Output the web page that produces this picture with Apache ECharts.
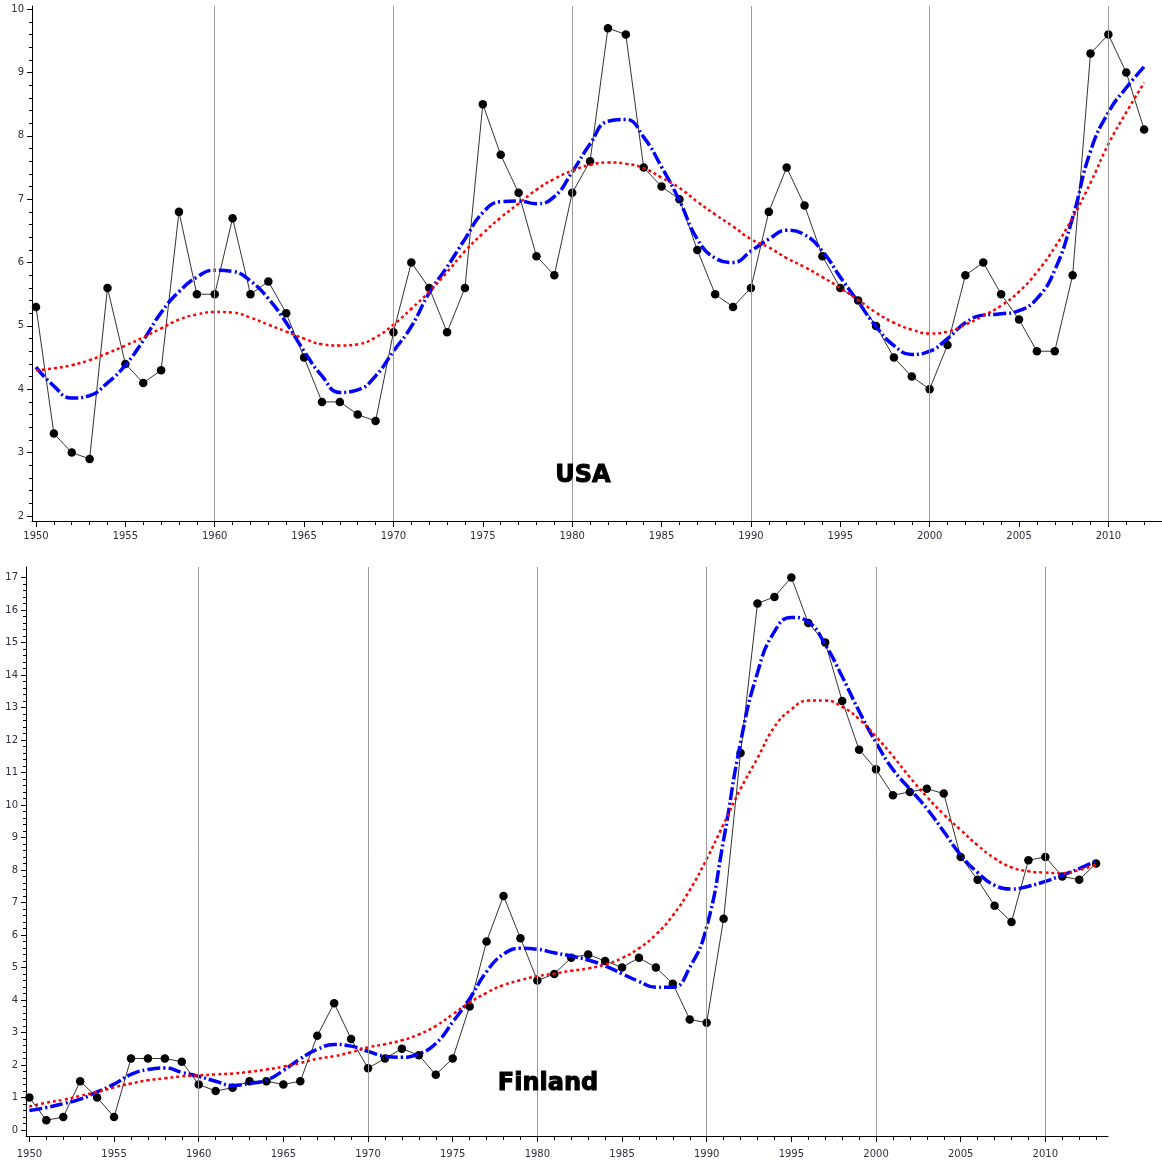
<!DOCTYPE html>
<html>
<head>
<meta charset="utf-8">
<script src="https://cdn.jsdelivr.net/npm/echarts/dist/echarts.min.js"></script>
<style>
html,body{margin:0;padding:0;background:#fff;}
#chart{width:1162px;height:1169px;}
</style>
</head>
<body>
<div id="chart"></div>
<script>
// ---------- DATA ----------
const usaYears = [1950,1951,1952,1953,1954,1955,1956,1957,1958,1959,
  1960,1961,1962,1963,1964,1965,1966,1967,1968,1969,
  1970,1971,1972,1973,1974,1975,1976,1977,1978,1979,
  1980,1981,1982,1983,1984,1985,1986,1987,1988,1989,
  1990,1991,1992,1993,1994,1995,1996,1997,1998,1999,
  2000,2001,2002,2003,2004,2005,2006,2007,2008,2009,
  2010,2011,2012];
const usaRate = [5.3,3.3,3.0,2.9,5.6,4.4,4.1,4.3,6.8,5.5,
  5.5,6.7,5.5,5.7,5.2,4.5,3.8,3.8,3.6,3.5,
  4.9,6.0,5.6,4.9,5.6,8.5,7.7,7.1,6.1,5.8,
  7.1,7.6,9.7,9.6,7.5,7.2,7.0,6.2,5.5,5.3,
  5.6,6.8,7.5,6.9,6.1,5.6,5.4,5.0,4.5,4.2,
  4.0,4.7,5.8,6.0,5.5,5.1,4.6,4.6,5.8,9.3,
  9.6,9.0,8.1];
const usaSmoothBlue = [4.35,4.05,3.86,3.90,4.10,4.38,4.77,5.21,5.54,5.77,
  5.88,5.86,5.71,5.43,5.05,4.60,4.21,3.95,3.99,4.21,
  4.60,4.99,5.52,5.93,6.37,6.79,6.96,6.97,6.93,7.04,
  7.43,7.87,8.23,8.26,7.98,7.51,6.98,6.37,6.07,6.00,
  6.18,6.37,6.51,6.44,6.18,5.77,5.38,4.99,4.69,4.55,
  4.60,4.80,5.05,5.17,5.19,5.24,5.43,5.88,6.71,7.76,
  8.37,8.76,9.09];
const usaSmoothRed = [4.30,4.33,4.38,4.46,4.57,4.69,4.82,4.96,5.10,5.18,
  5.22,5.21,5.13,5.02,4.91,4.80,4.71,4.69,4.71,4.82,
  5.02,5.27,5.54,5.85,6.18,6.46,6.71,6.93,7.15,7.32,
  7.45,7.54,7.58,7.56,7.49,7.34,7.18,6.96,6.76,6.57,
  6.37,6.24,6.07,5.93,5.77,5.60,5.41,5.21,5.05,4.94,
  4.88,4.91,5.02,5.16,5.32,5.54,5.85,6.24,6.71,7.26,
  7.87,8.37,8.84];

const finYears = [1950,1951,1952,1953,1954,1955,1956,1957,1958,1959,
  1960,1961,1962,1963,1964,1965,1966,1967,1968,1969,
  1970,1971,1972,1973,1974,1975,1976,1977,1978,1979,
  1980,1981,1982,1983,1984,1985,1986,1987,1988,1989,
  1990,1991,1992,1993,1994,1995,1996,1997,1998,1999,
  2000,2001,2002,2003,2004,2005,2006,2007,2008,2009,
  2010,2011,2012,2013];
const finRate = [1.0,0.3,0.4,1.5,1.0,0.4,2.2,2.2,2.2,2.1,
  1.4,1.2,1.3,1.5,1.5,1.4,1.5,2.9,3.9,2.8,
  1.9,2.2,2.5,2.3,1.7,2.2,3.8,5.8,7.2,5.9,
  4.6,4.8,5.3,5.4,5.2,5.0,5.3,5.0,4.5,3.4,
  3.3,6.5,11.6,16.2,16.4,17.0,15.6,15.0,13.2,11.7,
  11.1,10.3,10.4,10.5,10.35,8.4,7.7,6.9,6.4,8.3,
  8.4,7.8,7.7,8.2];
const finSmoothBlue = [0.60,0.69,0.81,0.95,1.17,1.41,1.71,1.86,1.91,1.77,
  1.65,1.50,1.37,1.43,1.53,1.83,2.19,2.48,2.63,2.58,
  2.42,2.27,2.24,2.34,2.66,3.32,4.04,4.87,5.41,5.59,
  5.56,5.45,5.35,5.23,5.05,4.81,4.57,4.39,4.39,5.00,
  6.25,8.93,11.92,14.07,15.33,15.77,15.63,14.93,13.95,12.88,
  11.92,11.09,10.49,9.89,9.18,8.46,7.92,7.53,7.41,7.50,
  7.65,7.84,8.04,8.28];
const finSmoothRed = [0.72,0.84,0.93,1.05,1.17,1.31,1.43,1.53,1.59,1.65,
  1.68,1.71,1.74,1.79,1.86,1.95,2.06,2.19,2.27,2.39,
  2.54,2.64,2.76,2.94,3.20,3.56,3.92,4.22,4.46,4.61,
  4.73,4.81,4.90,4.97,5.09,5.29,5.59,6.01,6.60,7.38,
  8.34,9.41,10.49,11.44,12.40,12.94,13.21,13.21,13.02,12.64,
  12.10,11.50,10.85,10.25,9.71,9.23,8.76,8.36,8.08,7.96,
  7.92,7.90,8.00,8.16];

const xTickLabels = [1950,1955,1960,1965,1970,1975,1980,1985,1990,1995,2000,2005,2010];
const gridYears = [1960,1970,1980,1990,2000,2010];
const usaYTickLabels = [2,3,4,5,6,7,8,9,10];
const finYTickLabels = [0,1,2,3,4,5,6,7,8,9,10,11,12,13,14,15,16,17];
const panelTitles = ['USA', 'Finland'];

// ---------- HELPERS ----------
function pairs(xs, ys){ return xs.map((x,i)=>[x, ys[i]]); }
function minorSteps(a, b, step){
  const out=[]; const n=Math.round((b-a)/step);
  for(let i=0;i<=n;i++){ out.push(+(a+i*step).toFixed(4)); }
  return out;
}
const labelColor = '#2e2e3e';
const FONT = 'DejaVu Sans';

function xAxes(gridIndex, min, max, labelMargin){
  return [{
    type:'value', gridIndex, min, max, position:'bottom',
    axisLine:{show:true, onZero:false, lineStyle:{color:'#000', width:1}},
    axisTick:{show:true, length:6, customValues:xTickLabels, lineStyle:{color:'#000'}},
    axisLabel:{show:true, customValues:xTickLabels, margin:labelMargin, color:labelColor,
      fontFamily:FONT, fontSize:10, formatter:(v)=>String(v)},
    splitLine:{show:false}
  },{
    type:'value', gridIndex, min, max, position:'bottom',
    axisLine:{show:false, onZero:false},
    axisTick:{show:true, length:4, customValues:minorSteps(1950, Math.floor(max), 1), lineStyle:{color:'#000'}},
    axisLabel:{show:false},
    splitLine:{show:false}
  }];
}
function yAxes(gridIndex, min, max, ticks){
  return [{
    type:'value', gridIndex, min, max, position:'left',
    axisLine:{show:true, onZero:false, lineStyle:{color:'#000', width:1}},
    axisTick:{show:true, length:5, customValues:ticks, lineStyle:{color:'#000'}},
    axisLabel:{show:true, customValues:ticks, margin:8, color:labelColor,
      fontFamily:FONT, fontSize:10, formatter:(v)=>String(v)},
    splitLine:{show:false}
  },{
    type:'value', gridIndex, min, max, position:'left',
    axisLine:{show:false, onZero:false},
    axisTick:{show:true, length:3, customValues:minorSteps(ticks[0], ticks[ticks.length-1], 0.2), lineStyle:{color:'#000'}},
    axisLabel:{show:false},
    splitLine:{show:false}
  }];
}

function panelSeries(xIdx, yIdx, years, rate, blue, red){
  return [
    { // vertical reference lines
      type:'line', xAxisIndex:xIdx, yAxisIndex:yIdx, data:pairs(years, rate),
      showSymbol:false, lineStyle:{width:0, opacity:0}, silent:true, z:1,
      markLine:{silent:true, symbol:['none','none'], label:{show:false},
        lineStyle:{color:'#9a9a9a', width:1, type:'solid'},
        emphasis:{disabled:true},
        data:gridYears.map(v=>({xAxis:v}))}
    },
    {
      type:'line', xAxisIndex:xIdx, yAxisIndex:yIdx, data:pairs(years, rate),
      symbol:'circle', symbolSize:8.5, itemStyle:{color:'#000'},
      lineStyle:{color:'#333', width:1}, z:2
    },
    {
      type:'line', xAxisIndex:xIdx, yAxisIndex:yIdx, data:pairs(years, blue),
      smooth:true, showSymbol:false,
      lineStyle:{color:'#0000ff', width:3.5, type:[13,3,2,3]}, z:3
    },
    {
      type:'line', xAxisIndex:xIdx, yAxisIndex:yIdx, data:pairs(years, red),
      smooth:true, showSymbol:false,
      lineStyle:{color:'#ff0000', width:2.5, type:[3,3]}, z:4
    }
  ];
}

const chart = echarts.init(document.getElementById('chart'), null, {renderer:'canvas'});
const titleStyle = {font:'bold 24px "DejaVu Sans"', fill:'#000', stroke:'#000', lineWidth:1, textAlign:'center', textVerticalAlign:'middle'};
const option = {
  backgroundColor:'#fff',
  animation:false,
  grid:[
    {left:32, top:6, width:1130, height:515},
    {left:26, top:567, width:1082, height:569}
  ],
  xAxis:[...xAxes(0, 1949.776, 2013.0, 10), ...xAxes(1, 1949.8, 2013.7, 13)],
  yAxis:[...yAxes(0, 1.92, 10.05, usaYTickLabels), ...yAxes(1, -0.185, 17.32, finYTickLabels)],
  series:[
    ...panelSeries(0, 0, usaYears, usaRate, usaSmoothBlue, usaSmoothRed),
    ...panelSeries(2, 2, finYears, finRate, finSmoothBlue, finSmoothRed)
  ],
  graphic:[
    {type:'text', x:583, y:476, z:100, style:Object.assign({text:panelTitles[0]}, titleStyle)},
    {type:'text', x:548, y:1084, z:100, style:Object.assign({text:panelTitles[1]}, titleStyle)}
  ]
};
chart.setOption(option);
</script>
</body>
</html>
